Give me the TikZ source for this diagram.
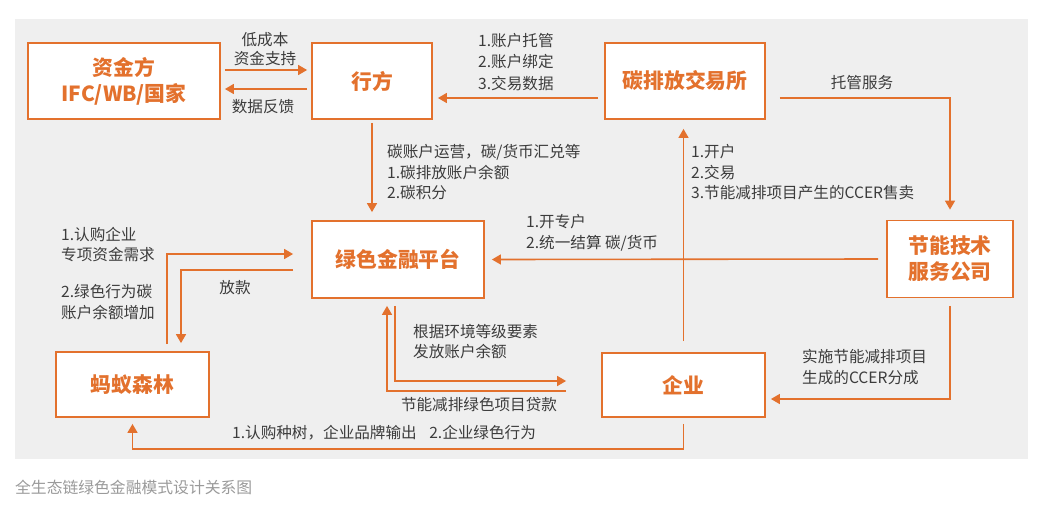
\documentclass[tikz,border=0pt]{standalone}
\usepackage{fontspec}
\setmainfont{Noto Sans CJK SC}
\usetikzlibrary{arrows.meta}
\definecolor{leaforange}{HTML}{E3712D}
\definecolor{labelgray}{HTML}{3C3C3C}
\definecolor{panelgray}{HTML}{EFEFEF}
\definecolor{captiongray}{HTML}{9A9A9A}

\begin{document}
\begin{tikzpicture}[x=1pt,y=-1pt,
    party/.style={draw=leaforange,line width=1.8pt,fill=white,text=leaforange,
        font=\fontsize{20.8}{26}\selectfont\bfseries,align=center,inner sep=0pt},
    note/.style={text=labelgray,font=\fontsize{15.6}{21}\selectfont,inner sep=0pt},
    flow/.style={draw=leaforange,line width=1.6pt,-{Triangle[length=9pt,width=10pt]}}]
        \useasboundingbox (0,0) rectangle (1052,520);
        %% Panel
        \fill[panelgray] (15,19) rectangle (1028,459);
        \node[anchor=west,text=captiongray,font=\fontsize{15.8}{18}\selectfont,inner sep=0pt] (caption) at (15,487) {全生态链绿色金融模式设计关系图};

        %% Parties
        \node[party,minimum width=192pt,minimum height=76pt] (fund) at (124,81) {资金方\\IFC/WB/国家};
        \node[party,minimum width=120pt,minimum height=76pt] (bank) at (372,81) {行方};
        \node[party,minimum width=160pt,minimum height=76pt] (exch) at (685,81) {碳排放交易所};
        \node[party,minimum width=126pt,minimum height=77pt] (esco) at (950,259) {节能技术\\服务公司};
        \node[party,minimum width=172pt,minimum height=77pt] (platform) at (398,259.5) {绿色金融平台};
        \node[party,minimum width=153pt,minimum height=65pt] (forest) at (132.5,384.5) {蚂蚁森林};
        \node[party,minimum width=163pt,minimum height=64pt] (firm) at (683.5,385) {企业};

        %% Flows
        \draw[flow] ([xshift=4pt,yshift=11pt]fund.east) -- ([xshift=-4pt,yshift=11pt]bank.west);
        \draw[flow] ([xshift=-4pt,yshift=-8pt]bank.west) -- ([xshift=4pt,yshift=-8pt]fund.east);
        \draw[flow] ([xshift=-6pt,yshift=-17pt]exch.west) -- ([xshift=5pt,yshift=-17pt]bank.east);
        \draw[flow] ([xshift=14pt,yshift=-17pt]exch.east) -| ([yshift=10pt]esco.north);
        \draw[flow] ([yshift=-3pt]bank.south) -- ([yshift=8pt]bank.south |- platform.north);
        \draw[flow] ([yshift=11pt]firm.north) -- ([yshift=-9pt]firm.north |- exch.south);
        \draw[flow] ([xshift=-8pt]esco.west) -- ([xshift=7pt]platform.east);
        \draw[flow] ([xshift=34.5pt,yshift=7pt]forest.north) |- ([xshift=-18pt,yshift=5.5pt]platform.west);
        \draw[flow] ([xshift=-18pt,yshift=-10.5pt]platform.west) -| ([xshift=48.5pt,yshift=8pt]forest.north);
        \draw[flow] ([xshift=-3pt,yshift=-7pt]platform.south) |- ([xshift=-35pt,yshift=4pt]firm.west);
        \draw[flow] ([xshift=-35pt,yshift=-6pt]firm.west) -| ([xshift=-11pt,yshift=-7pt]platform.south);
        \draw[flow] ([yshift=-7.5pt]esco.south) |- ([xshift=5pt,yshift=-14pt]firm.east);
        \draw[flow] ([yshift=-6pt]firm.south) -- ++(0,25) -| ([yshift=-6pt]forest.south);

        %% Labels
        \node[note,align=center,font=\fontsize{15.6}{18.5}\selectfont] (cheap) at (265,49) {低成本\\资金支持};
        \node[note] (feedback) at (263,107) {数据反馈};
        \node[note,anchor=west,align=left,font=\fontsize{15.6}{21.5}\selectfont] (custody) at (478,62) {1.账户托管\\2.账户绑定\\3.交易数据};
        \node[note] (service) at (862,83) {托管服务};
        \node[note,anchor=west,align=left,font=\fontsize{15.6}{20.5}\selectfont] (operate) at (387,172.5) {碳账户运营，碳/货币汇兑等\\1.碳排放账户余额\\2.碳积分};
        \node[note,anchor=west,align=left,font=\fontsize{15.6}{20.5}\selectfont] (trade) at (691,172.5) {1.开户\\2.交易\\3.节能减排项目产生的CCER售卖};
        \node[note,anchor=west,align=left] (settle) at (526,232.5) {1.开专户\\2.统一结算 碳/货币};
        \node[note,anchor=west,align=left,font=\fontsize{15.6}{20}\selectfont] (demand) at (61,245) {1.认购企业\\专项资金需求};
        \node[note,anchor=west,align=left] (credit) at (61,302.5) {2.绿色行为碳\\账户余额增加};
        \node[note] (loan) at (235,288) {放款};
        \node[note,anchor=west,align=left,font=\fontsize{15.6}{20}\selectfont] (grade) at (413,342) {根据环境等级要素\\发放账户余额};
        \node[note] (greenloan) at (479,405) {节能减排绿色项目贷款};
        \node[note,anchor=west,align=left] (share) at (802,367.5) {实施节能减排项目\\生成的CCER分成};
        \node[note,anchor=west] (plant) at (232,433) {1.认购种树，企业品牌输出\hspace{0.8em}2.企业绿色行为};
    \end{tikzpicture}
\end{document}
